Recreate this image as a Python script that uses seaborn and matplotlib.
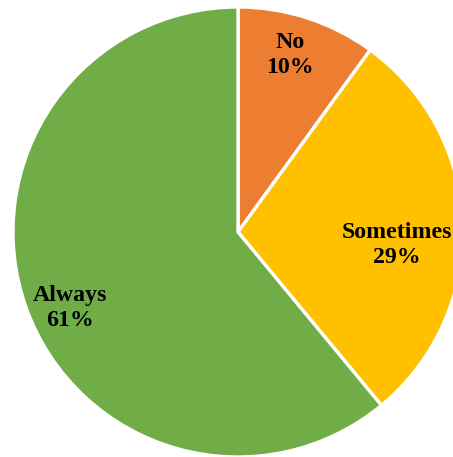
import numpy as np
import matplotlib
matplotlib.use("Agg")
import matplotlib.pyplot as plt
import seaborn as sns

categories = ["No", "Sometimes", "Always"]
percentages = [10, 29, 61]
slice_colors = ["#ED7D31", "#FFC000", "#70AD47"]

# label placement: fraction of radius and angular nudge (degrees) from wedge middle
label_radius = [0.82, 0.71, 0.82]
label_nudge = [1.6, -6.5, 4.5]

sns.set_theme(style="white")
plt.rcParams["font.family"] = ["Liberation Serif", "DejaVu Serif"]

W, H, DPI = 453, 457, 100
fig = plt.figure(figsize=(W / DPI, H / DPI), dpi=DPI)
ax = fig.add_axes([0, 0, 1, 1])

wedges, _ = ax.pie(
    percentages,
    colors=slice_colors,
    startangle=90,
    counterclock=False,
    radius=1.0,
    wedgeprops=dict(edgecolor="white", linewidth=2.4),
)

for w, name, pct, r, nudge in zip(wedges, categories, percentages, label_radius, label_nudge):
    mid = np.deg2rad((w.theta1 + w.theta2) / 2 + nudge)
    ax.text(r * np.cos(mid), r * np.sin(mid), f"{name}\n{pct}%",
            ha="center", va="center", fontsize=17.2, fontweight="bold",
            color="black", linespacing=1.25)

# pie centre sits at pixel (238, 232) with a 225 px radius
scale = 225.0
cx, cy = 238.0, 232.0
ax.set_xlim(-cx / scale, (W - cx) / scale)
ax.set_ylim(-(H - cy) / scale, cy / scale)
ax.set_aspect("equal")
ax.axis("off")

fig.savefig("out.png", dpi=DPI)
